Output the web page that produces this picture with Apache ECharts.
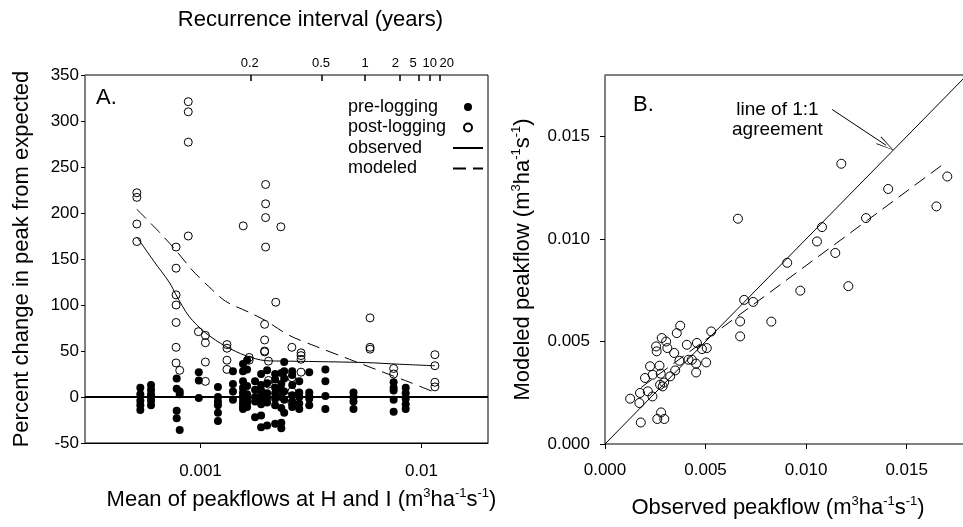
<!DOCTYPE html>
<html>
<head>
<meta charset="utf-8">
<script src="https://cdn.jsdelivr.net/npm/echarts@6/dist/echarts.min.js"></script>
<style>
html, body { margin: 0; padding: 0; background: #fff; }
#chart { width: 963px; height: 527px; }
</style>
</head>
<body>
<div id="chart"></div>
<script type="text/javascript">
// ---- panel A: percent change vs mean peakflow ----
var preLogging = [
  [0.000534, 10], [0.000534, 3], [0.000534, -4], [0.000534, -9], [0.000534, -14],
  [0.000597, 13], [0.000597, 8], [0.000597, 3], [0.000597, 0], [0.000597, -4], [0.000597, -9],
  [0.000780, 20], [0.000780, 9], [0.000780, -15], [0.000780, -23],
  [0.000805, 6], [0.000805, 3], [0.000805, -36],
  [0.000982, 27], [0.000982, 18], [0.000982, -1],
  [0.001199, 11], [0.001199, 0], [0.001199, -5], [0.001199, -9], [0.001199, -17], [0.001199, -26],
  [0.001402, 28], [0.001402, 14], [0.001402, 6], [0.001402, -3],
  [0.001557, 36], [0.001557, 28], [0.001557, 17], [0.001557, 10], [0.001557, 5], [0.001557, 1], [0.001557, -3], [0.001557, -7], [0.001557, -10], [0.001557, -13],
  [0.001624, 40], [0.001624, 30], [0.001624, 12], [0.001624, 3], [0.001624, -2], [0.001624, -6], [0.001624, -11],
  [0.001765, 17], [0.001765, 8], [0.001765, 0], [0.001765, -5], [0.001765, -22],
  [0.001880, 25], [0.001880, 13], [0.001880, 7], [0.001880, 2], [0.001880, -3], [0.001880, -8], [0.001880, -20], [0.001880, -33],
  [0.002001, 29], [0.002001, 15], [0.002001, 4], [0.002001, -1], [0.002001, -6], [0.002001, -31],
  [0.002176, 25], [0.002176, 19], [0.002176, 10], [0.002176, 4], [0.002176, -2], [0.002176, -9], [0.002176, -29],
  [0.002320, 26], [0.002320, 14], [0.002320, 8], [0.002320, 0], [0.002320, -12], [0.002320, -28], [0.002320, -34],
  [0.002391, 38], [0.002391, 28], [0.002391, 20], [0.002391, 6], [0.002391, -3], [0.002391, -17],
  [0.002600, 28], [0.002600, 24], [0.002600, 13], [0.002600, 2], [0.002600, -5], [0.002600, -11],
  [0.002797, 17], [0.002797, 5], [0.002797, 0], [0.002797, -7], [0.002797, -13],
  [0.003105, 27], [0.003105, 5], [0.003105, 1], [0.003105, -2], [0.003105, -9],
  [0.003673, 30], [0.003673, 17], [0.003673, 1], [0.003673, -13],
  [0.004924, 5], [0.004924, 0], [0.004924, -5], [0.004924, -13],
  [0.007481, 16], [0.007481, 10], [0.007481, 7], [0.007481, -3], [0.007481, -16],
  [0.008483, 10], [0.008483, 4], [0.008483, -2], [0.008483, -8], [0.008483, -13]
];
var postLogging = [
  [0.000515, 222], [0.000515, 217], [0.000515, 188], [0.000515, 169],
  [0.000775, 163], [0.000775, 140], [0.000775, 111], [0.000775, 100], [0.000775, 81], [0.000775, 54], [0.000775, 37],
  [0.000805, 29],
  [0.000880, 321], [0.000880, 310], [0.000880, 277], [0.000880, 175],
  [0.000978, 71],
  [0.001052, 67], [0.001052, 59], [0.001052, 38], [0.001052, 17],
  [0.001317, 57], [0.001317, 53], [0.001317, 40], [0.001317, 30],
  [0.00156, 186],
  [0.00166, 43], [0.00166, 40],
  [0.00195, 79], [0.00195, 62], [0.00195, 50], [0.00195, 49],
  [0.00197, 231], [0.00197, 210], [0.00197, 195], [0.00197, 163],
  [0.00203, 39], [0.00203, 18], [0.00203, 14],
  [0.00219, 103],
  [0.00231, 185],
  [0.00259, 54], [0.00259, 21], [0.00259, 6], [0.00259, -6],
  [0.00285, 48], [0.00285, 45], [0.00285, 41], [0.00285, 27],
  [0.00585, 86], [0.00585, 54], [0.00585, 52],
  [0.00748, 31], [0.00748, 25],
  [0.0115, 46], [0.0115, 34], [0.0115, 16], [0.0115, 11]
];
var obsFlow = [0.000515, 0.000613, 0.000725, 0.000775, 0.000885, 0.00105, 0.00130, 0.00160, 0.00197, 0.00243, 0.00333, 0.00563, 0.00797, 0.0115];
var obsPct  = [174, 148, 124, 111, 88, 70, 55, 45, 39.5, 39, 38.5, 37.4, 35.6, 34];
var modFlow = [0.000515, 0.000646, 0.000770, 0.000916, 0.00109, 0.00130, 0.00166, 0.00197, 0.00252, 0.00333, 0.00472, 0.00670, 0.00885, 0.0115];
var modPct  = [204, 180, 160, 138, 120, 104, 92, 83, 67, 55, 41, 27, 16, 5];

var flowTicks = [0.001, 0.01];
var flowTickLabels = ['0.001', '0.01'];
// recurrence interval (top axis): tick positions and label positions in flow units
var riTickFlows  = [0.00169, 0.00353, 0.00556, 0.00796, 0.00967, 0.0109, 0.0121];
var riLabelFlows = [0.00167, 0.00351, 0.00556, 0.00762, 0.00917, 0.0109, 0.0130];
var riLabels     = ['0.2', '0.5', '1', '2', '5', '10', '20'];

// ---- panel B: modeled vs observed peakflow ----
var peakPairs = [
  [0.00125, 0.00221], [0.00171, 0.00200], [0.00178, 0.00105], [0.00174, 0.00249], [0.00199, 0.00322],
  [0.00213, 0.00257], [0.00224, 0.00379], [0.00237, 0.00338], [0.00236, 0.00232], [0.00254, 0.00476],
  [0.00257, 0.00452], [0.00282, 0.00517], [0.00304, 0.00500], [0.00310, 0.00468], [0.00271, 0.00382],
  [0.00277, 0.00343], [0.00274, 0.00289], [0.00287, 0.00281], [0.00294, 0.00300], [0.00260, 0.00122],
  [0.00295, 0.00122], [0.00279, 0.00154], [0.00324, 0.00330], [0.00344, 0.00444], [0.00349, 0.00359],
  [0.00357, 0.00541], [0.00374, 0.00577], [0.00370, 0.00406], [0.00407, 0.00484], [0.00415, 0.00411],
  [0.00432, 0.00411], [0.00453, 0.00392], [0.00453, 0.00349], [0.00457, 0.00493], [0.00482, 0.00463],
  [0.00506, 0.00468], [0.00503, 0.00398], [0.00528, 0.00549], [0.00672, 0.00598], [0.00672, 0.00525],
  [0.00661, 0.01099], [0.00692, 0.00703], [0.00737, 0.00693], [0.00827, 0.00597], [0.00906, 0.00884],
  [0.00971, 0.00748], [0.01054, 0.00988], [0.01079, 0.01058], [0.01145, 0.00932], [0.01175, 0.01367],
  [0.0121, 0.0077], [0.01298, 0.01102], [0.01408, 0.01244], [0.01648, 0.01159], [0.01702, 0.01305]
];
var oneToOne = [[0, 0], [0.018, 0.018]];
var fitLine = [[0.0018, 0.00276], [0.0170, 0.01378]];
var arrowFrom = [0.01129, 0.01632];
var arrowTo = [0.01398, 0.01457];
var peakTicks = [0, 0.005, 0.010, 0.015];

var FONT = 'Liberation Sans, Arial, Helvetica, sans-serif';
var supRich = { s: { fontSize: 13, fontFamily: FONT, color: '#000', padding: [0, 0, 12, 0] } };
var nameStyle = { fontSize: 22, fontFamily: FONT, color: '#000', rich: supRich };
// open V arrow head, tip pointing up before rotation
var chevron = 'path://M5,0 L10,18 L9,18 L5,2 L1,18 L0,18 Z';

function nearestLabel(v, vals, labels) {
    var best = 0;
    for (var i = 1; i < vals.length; i++) {
        if (Math.abs(vals[i] - v) < Math.abs(vals[best] - v)) best = i;
    }
    return labels[best];
}

var myChart = echarts.init(document.getElementById('chart'));

var option = {
    animation: false,
    backgroundColor: '#fff',
    grid: [
        { left: 85, right: 475, top: 75, bottom: 84, show: true, borderColor: '#000', borderWidth: 1, containLabel: false, outerBoundsMode: 'none' },
        { left: 605, right: -4, top: 75, bottom: 83, show: true, borderColor: '#000', borderWidth: 1, containLabel: false, outerBoundsMode: 'none' }
    ],
    legend: {
        data: ['pre-logging', 'post-logging', 'observed', 'modeled'],
        orient: 'vertical',
        left: 343,
        top: 93,
        align: 'right',
        itemWidth: 30,
        itemHeight: 8,
        itemGap: 2.5,
        formatter: function (name) { return '{t|' + name + '}'; },
        textStyle: {
            fontSize: 18, fontFamily: FONT, color: '#000',
            rich: { t: { width: 100, align: 'left', fontSize: 18, fontFamily: FONT, color: '#000' } }
        }
    },
    graphic: [
        { type: 'text', left: 96, top: 87, style: { text: 'A.', fontSize: 22, fontFamily: FONT, fill: '#000' } },
        { type: 'text', left: 633, top: 94, style: { text: 'B.', fontSize: 22, fontFamily: FONT, fill: '#000' } },
        { type: 'text', left: 732, top: 100, style: { text: 'line of 1:1\nagreement', fontSize: 19, lineHeight: 20, fontFamily: FONT, fill: '#000', textAlign: 'center' } }
    ],
    xAxis: [
        {
            type: 'log', gridIndex: 0, position: 'bottom', min: 0.0003, max: 0.02,
            axisLine: { show: true, onZero: false, lineStyle: { color: '#000', width: 1 } },
            axisTick: { show: true, customValues: flowTicks, length: 5, lineStyle: { color: '#000' } },
            axisLabel: { customValues: flowTicks, margin: 20, formatter: function (v) { return nearestLabel(v, flowTicks, flowTickLabels); }, fontSize: 17, fontFamily: FONT, color: '#000' },
            splitLine: { show: false }, minorTick: { show: false },
            name: 'Mean of peakflows at H and I (m{s|3}ha{s|-1}s{s|-1})',
            nameLocation: 'middle', nameGap: 44, nameMoveOverlap: false,
            nameTextStyle: Object.assign({ padding: [0, 0, 0, 30] }, nameStyle)
        },
        {
            type: 'log', gridIndex: 0, position: 'top', min: 0.0003, max: 0.02,
            axisLine: { show: false, onZero: false },
            axisTick: { show: true, inside: true, customValues: riTickFlows, length: 6, lineStyle: { color: '#000', width: 1.5 } },
            axisLabel: { customValues: riLabelFlows, margin: 5, formatter: function (v) { return nearestLabel(v, riLabelFlows, riLabels); }, fontSize: 13, fontFamily: FONT, color: '#000' },
            splitLine: { show: false }, minorTick: { show: false },
            name: 'Recurrence interval (years)',
            nameLocation: 'middle', nameGap: 44, nameMoveOverlap: false,
            nameTextStyle: { fontSize: 22, fontFamily: FONT, color: '#000', padding: [0, 0, 0, 48] }
        },
        {
            type: 'value', gridIndex: 1, position: 'bottom', min: 0, max: 0.018,
            axisLine: { show: true, onZero: false, lineStyle: { color: '#808080', width: 2 } },
            axisTick: { show: true, customValues: peakTicks, length: 5, lineStyle: { color: '#000' } },
            axisLabel: { customValues: peakTicks, margin: 18, formatter: function (v) { return v.toFixed(3); }, fontSize: 17, fontFamily: FONT, color: '#000' },
            splitLine: { show: false },
            name: 'Observed peakflow (m{s|3}ha{s|-1}s{s|-1})',
            nameLocation: 'middle', nameGap: 51, nameMoveOverlap: false,
            nameTextStyle: Object.assign({ padding: [0, 16, 0, 0] }, nameStyle)
        }
    ],
    yAxis: [
        {
            type: 'value', gridIndex: 0, min: -50, max: 350, interval: 50,
            axisLine: { show: true, onZero: false, lineStyle: { color: '#808080', width: 1.5 } },
            axisTick: { show: true, length: 4, lineStyle: { color: '#000' } },
            axisLabel: { margin: 6, fontSize: 17, fontFamily: FONT, color: '#000' },
            splitLine: { show: false },
            name: 'Percent change in peak from expected',
            nameLocation: 'middle', nameRotate: 90, nameGap: 52, nameMoveOverlap: false,
            nameTextStyle: { fontSize: 22, fontFamily: FONT, color: '#000' }
        },
        {
            type: 'value', gridIndex: 1, min: 0, max: 0.018,
            axisLine: { show: true, onZero: false, lineStyle: { color: '#808080', width: 1.5 } },
            axisTick: { show: true, customValues: peakTicks, length: 5, lineStyle: { color: '#000' } },
            axisLabel: { customValues: peakTicks, margin: 15, formatter: function (v) { return v.toFixed(3); }, fontSize: 17, fontFamily: FONT, color: '#000' },
            splitLine: { show: false },
            name: 'Modeled peakflow (m{s|3}ha{s|-1}s{s|-1})',
            nameLocation: 'middle', nameRotate: 90, nameGap: 70, nameMoveOverlap: false,
            nameTextStyle: nameStyle
        }
    ],
    series: [
        {
            name: 'pre-logging', type: 'scatter', xAxisIndex: 0, yAxisIndex: 0,
            symbol: 'circle', symbolSize: 8,
            itemStyle: { color: '#000', opacity: 1 },
            data: preLogging,
            markLine: {
                silent: true, symbol: 'none', label: { show: false },
                lineStyle: { color: '#000', width: 2, type: 'solid' },
                data: [{ yAxis: 0 }]
            }
        },
        {
            name: 'post-logging', type: 'scatter', xAxisIndex: 0, yAxisIndex: 0,
            symbol: 'circle', symbolSize: 8,
            itemStyle: { color: 'rgba(255,255,255,0)', borderColor: '#000', borderWidth: 1, opacity: 1 },
            data: postLogging
        },
        {
            name: 'observed', type: 'line', xAxisIndex: 0, yAxisIndex: 0,
            smooth: 0.3, symbol: 'none',
            lineStyle: { color: '#000', width: 1 },
            itemStyle: { color: 'rgba(0,0,0,0)' },
            data: obsFlow.map(function (x, i) { return [x, obsPct[i]]; })
        },
        {
            name: 'modeled', type: 'line', xAxisIndex: 0, yAxisIndex: 0,
            smooth: 0.3, symbol: 'none',
            lineStyle: { color: '#000', width: 1, type: [13, 7] },
            itemStyle: { color: 'rgba(0,0,0,0)' },
            data: modFlow.map(function (x, i) { return [x, modPct[i]]; })
        },
        {
            name: 'peaks', type: 'scatter', xAxisIndex: 2, yAxisIndex: 1,
            symbol: 'circle', symbolSize: 9,
            itemStyle: { color: 'rgba(255,255,255,0)', borderColor: '#000', borderWidth: 1, opacity: 1 },
            data: peakPairs
        },
        {
            name: '1:1', type: 'line', xAxisIndex: 2, yAxisIndex: 1,
            symbol: 'none', lineStyle: { color: '#000', width: 1 },
            data: oneToOne,
            markLine: {
                silent: true, symbol: ['none', chevron], symbolSize: [9, 18],
                label: { show: false },
                lineStyle: { color: '#000', width: 1, type: 'solid' },
                data: [[{ coord: arrowFrom }, { coord: arrowTo }]]
            }
        },
        {
            name: 'fit', type: 'line', xAxisIndex: 2, yAxisIndex: 1,
            symbol: 'none', lineStyle: { color: '#000', width: 1, type: [13, 7] },
            data: fitLine
        }
    ]
};
myChart.setOption(option);
</script>
</body>
</html>
